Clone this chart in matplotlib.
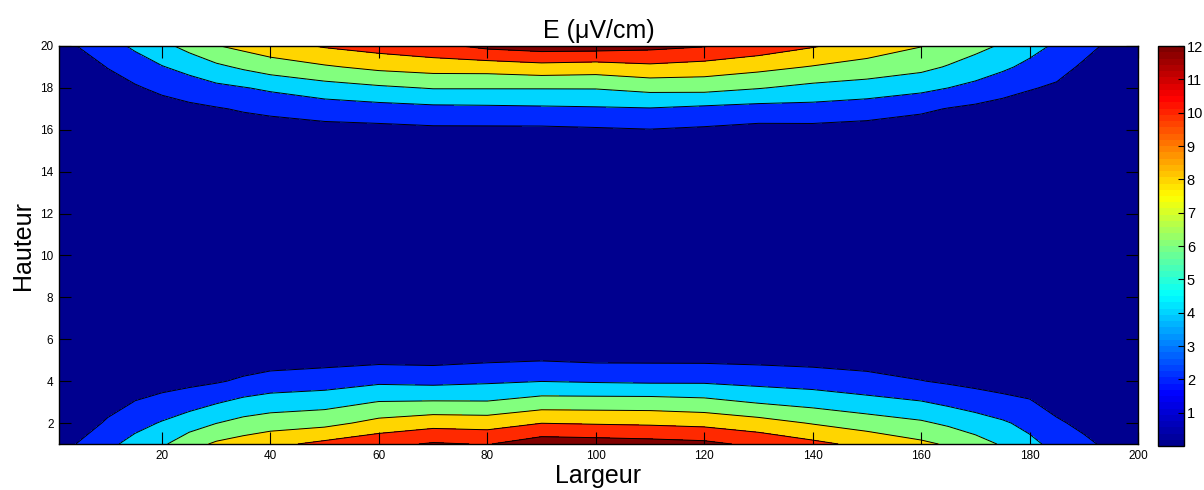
import numpy as np
import matplotlib
matplotlib.use("Agg")
import matplotlib.pyplot as plt
from matplotlib.colors import Normalize, LinearSegmentedColormap
from matplotlib.cm import ScalarMappable

plt.rcParams["font.family"] = ["Liberation Sans", "DejaVu Sans"]

# grid columns (Largeur) and rows (Hauteur)
x_cols = [1, 5, 10, 15, 20, 25, 30, 35, 40, 50, 60, 70, 80, 90, 100,
          110, 120, 130, 140, 150, 160, 165, 170, 175, 180, 185, 190, 195, 200]
y_rows = list(range(1, 21))

# E field near the bottom edge, rows y = 1..5
E_y1 = [1.2, 2.23, 3.53, 4.66, 5.69, 7.21, 8.31, 8.9, 9.48, 10.51, 11.44, 12.2, 11.9, 13.09, 12.94,
        12.74, 12.48, 11.52, 10.49, 9.45, 8.4, 7.77, 6.81, 5.79, 4.49, 3.41, 2.46, 1.5, 1.0]
E_y2 = [0.6, 1.0, 2.29, 3.35, 4.15, 5.05, 5.96, 6.63, 7.06, 7.4, 8.59, 9.24, 9.1, 9.97, 9.82,
        9.69, 9.44, 8.8, 7.87, 7.06, 6.29, 5.66, 4.97, 4.26, 3.45, 2.31, 1.48, 0.9, 0.6]
E_y3 = [0.35, 0.5, 1.2, 2.06, 2.64, 3.14, 3.83, 4.52, 4.89, 5.22, 6.07, 6.16, 6.12, 6.86, 6.86,
        6.85, 6.58, 5.84, 5.29, 4.62, 4.11, 3.57, 3.04, 2.59, 2.18, 1.2, 0.8, 0.5, 0.35]
E_y4 = [0.2, 0.3, 0.6, 1.1, 1.2, 1.5, 1.8, 2.31, 2.81, 3.06, 3.62, 3.47, 3.71, 3.96, 3.8,
        3.69, 3.7, 3.38, 3.14, 2.75, 2.06, 1.73, 1.43, 1.15, 0.97, 0.6, 0.4, 0.3, 0.2]
E_y5 = [0.15, 0.2, 0.35, 0.6, 0.65, 0.8, 1.0, 1.0, 1.15, 1.4, 1.58, 1.5, 1.76, 1.93, 1.73,
        1.72, 1.7, 1.6, 1.43, 1.15, 0.85, 0.8, 0.7, 0.6, 0.5, 0.35, 0.25, 0.2, 0.15]

# core of the domain (y = 6..15) stays in the lowest band
E_core = 0.5

# E field near the top edge, rows y = 16..20
E_y16 = [0.15, 0.2, 0.3, 0.5, 0.6, 0.8, 1.0, 1.0, 1.03, 1.36, 1.45, 1.64, 1.64, 1.64, 1.78,
         1.94, 1.73, 1.42, 1.43, 1.24, 0.92, 1.0, 0.8, 0.65, 0.5, 0.45, 0.3, 0.2, 0.15]
E_y17 = [0.2, 0.3, 0.5, 1.0, 1.13, 1.54, 1.85, 2.19, 2.52, 2.97, 3.26, 3.5, 3.57, 3.67, 3.77,
         3.88, 3.55, 3.3, 3.32, 2.98, 2.36, 1.91, 1.58, 1.29, 1.0, 0.85, 0.5, 0.3, 0.2]
E_y18 = [0.35, 0.5, 1.0, 1.77, 2.47, 3.01, 3.53, 3.9, 4.33, 5.16, 5.68, 6.11, 6.11, 6.11, 6.12,
         6.59, 6.65, 6.1, 5.46, 5.11, 4.52, 4.0, 3.45, 2.71, 2.14, 1.71, 0.9, 0.5, 0.35]
E_y19 = [0.6, 1.0, 2.08, 3.01, 3.9, 4.64, 5.58, 6.31, 6.99, 7.77, 8.49, 8.85, 8.9, 9.29, 9.08,
         9.56, 9.19, 8.6, 7.88, 7.23, 6.53, 5.85, 5.11, 4.37, 3.49, 2.71, 1.7, 0.9, 0.6]
E_y20 = [1.28, 2.15, 3.24, 4.34, 5.46, 6.65, 7.9, 8.55, 9.16, 10.19, 10.81, 11.44, 12.52, 12.98, 12.92,
         12.57, 12.12, 11.19, 10.17, 9.13, 8.07, 7.35, 6.59, 5.77, 4.73, 3.68, 2.63, 1.58, 1.1]

levels = [0, 2, 4, 6, 8, 10, 12, 14]
cbar_ticks = list(range(1, 13))
x_ticks = list(range(20, 201, 20))
y_ticks = list(range(2, 21, 2))

Z = np.vstack([E_y1, E_y2, E_y3, E_y4, E_y5]
              + [np.full(len(x_cols), E_core)] * 10
              + [E_y16, E_y17, E_y18, E_y19, E_y20])
X, Y = np.meshgrid(x_cols, y_rows)

# MATLAB-style jet
jet_m = LinearSegmentedColormap("jet_m", {
    "red":   [(0, 0, 0), (0.375, 0, 0), (0.625, 1, 1), (0.875, 1, 1), (1, 0.5, 0.5)],
    "green": [(0, 0, 0), (0.125, 0, 0), (0.375, 1, 1), (0.625, 1, 1), (0.875, 0, 0), (1, 0, 0)],
    "blue":  [(0, 0.5625, 0.5625), (0.125, 1, 1), (0.375, 1, 1), (0.625, 0, 0), (1, 0, 0)],
}, N=256)
fill_colors = [jet_m(l / 12) for l in levels[:-1]]

fig = plt.figure(figsize=(12.04, 4.9), dpi=100)
ax = fig.add_axes([59 / 1204, 46 / 490, 1079 / 1204, 398 / 490])
cax = fig.add_axes([1158 / 1204, 44 / 490, 26 / 1204, 400 / 490])

ax.contourf(X, Y, Z, levels=levels, colors=fill_colors)
ax.contour(X, Y, Z, levels=levels[1:-1], colors="k", linewidths=0.7)

ax.set_xlim(1, 200)
ax.set_ylim(1, 20)
ax.set_xticks(x_ticks)
ax.set_yticks(y_ticks)
ax.tick_params(direction="in", length=8.5, width=0.8, top=True, right=True,
               labelsize=8.5, pad=4)
for s in ax.spines.values():
    s.set_linewidth(1.0)

ax.set_title("E (μV/cm)", fontsize=18, pad=6)
ax.set_xlabel("Largeur", fontsize=18, labelpad=2)
ax.set_ylabel("Hauteur", fontsize=18, labelpad=4)

sm = ScalarMappable(norm=Normalize(0, 12), cmap=jet_m.resampled(64))
cb = fig.colorbar(sm, cax=cax, ticks=cbar_ticks)
cb.ax.tick_params(direction="in", length=4, width=0.8, labelsize=10.5, pad=2)
cb.outline.set_linewidth(1.0)

fig.savefig("out.png", dpi=100)
